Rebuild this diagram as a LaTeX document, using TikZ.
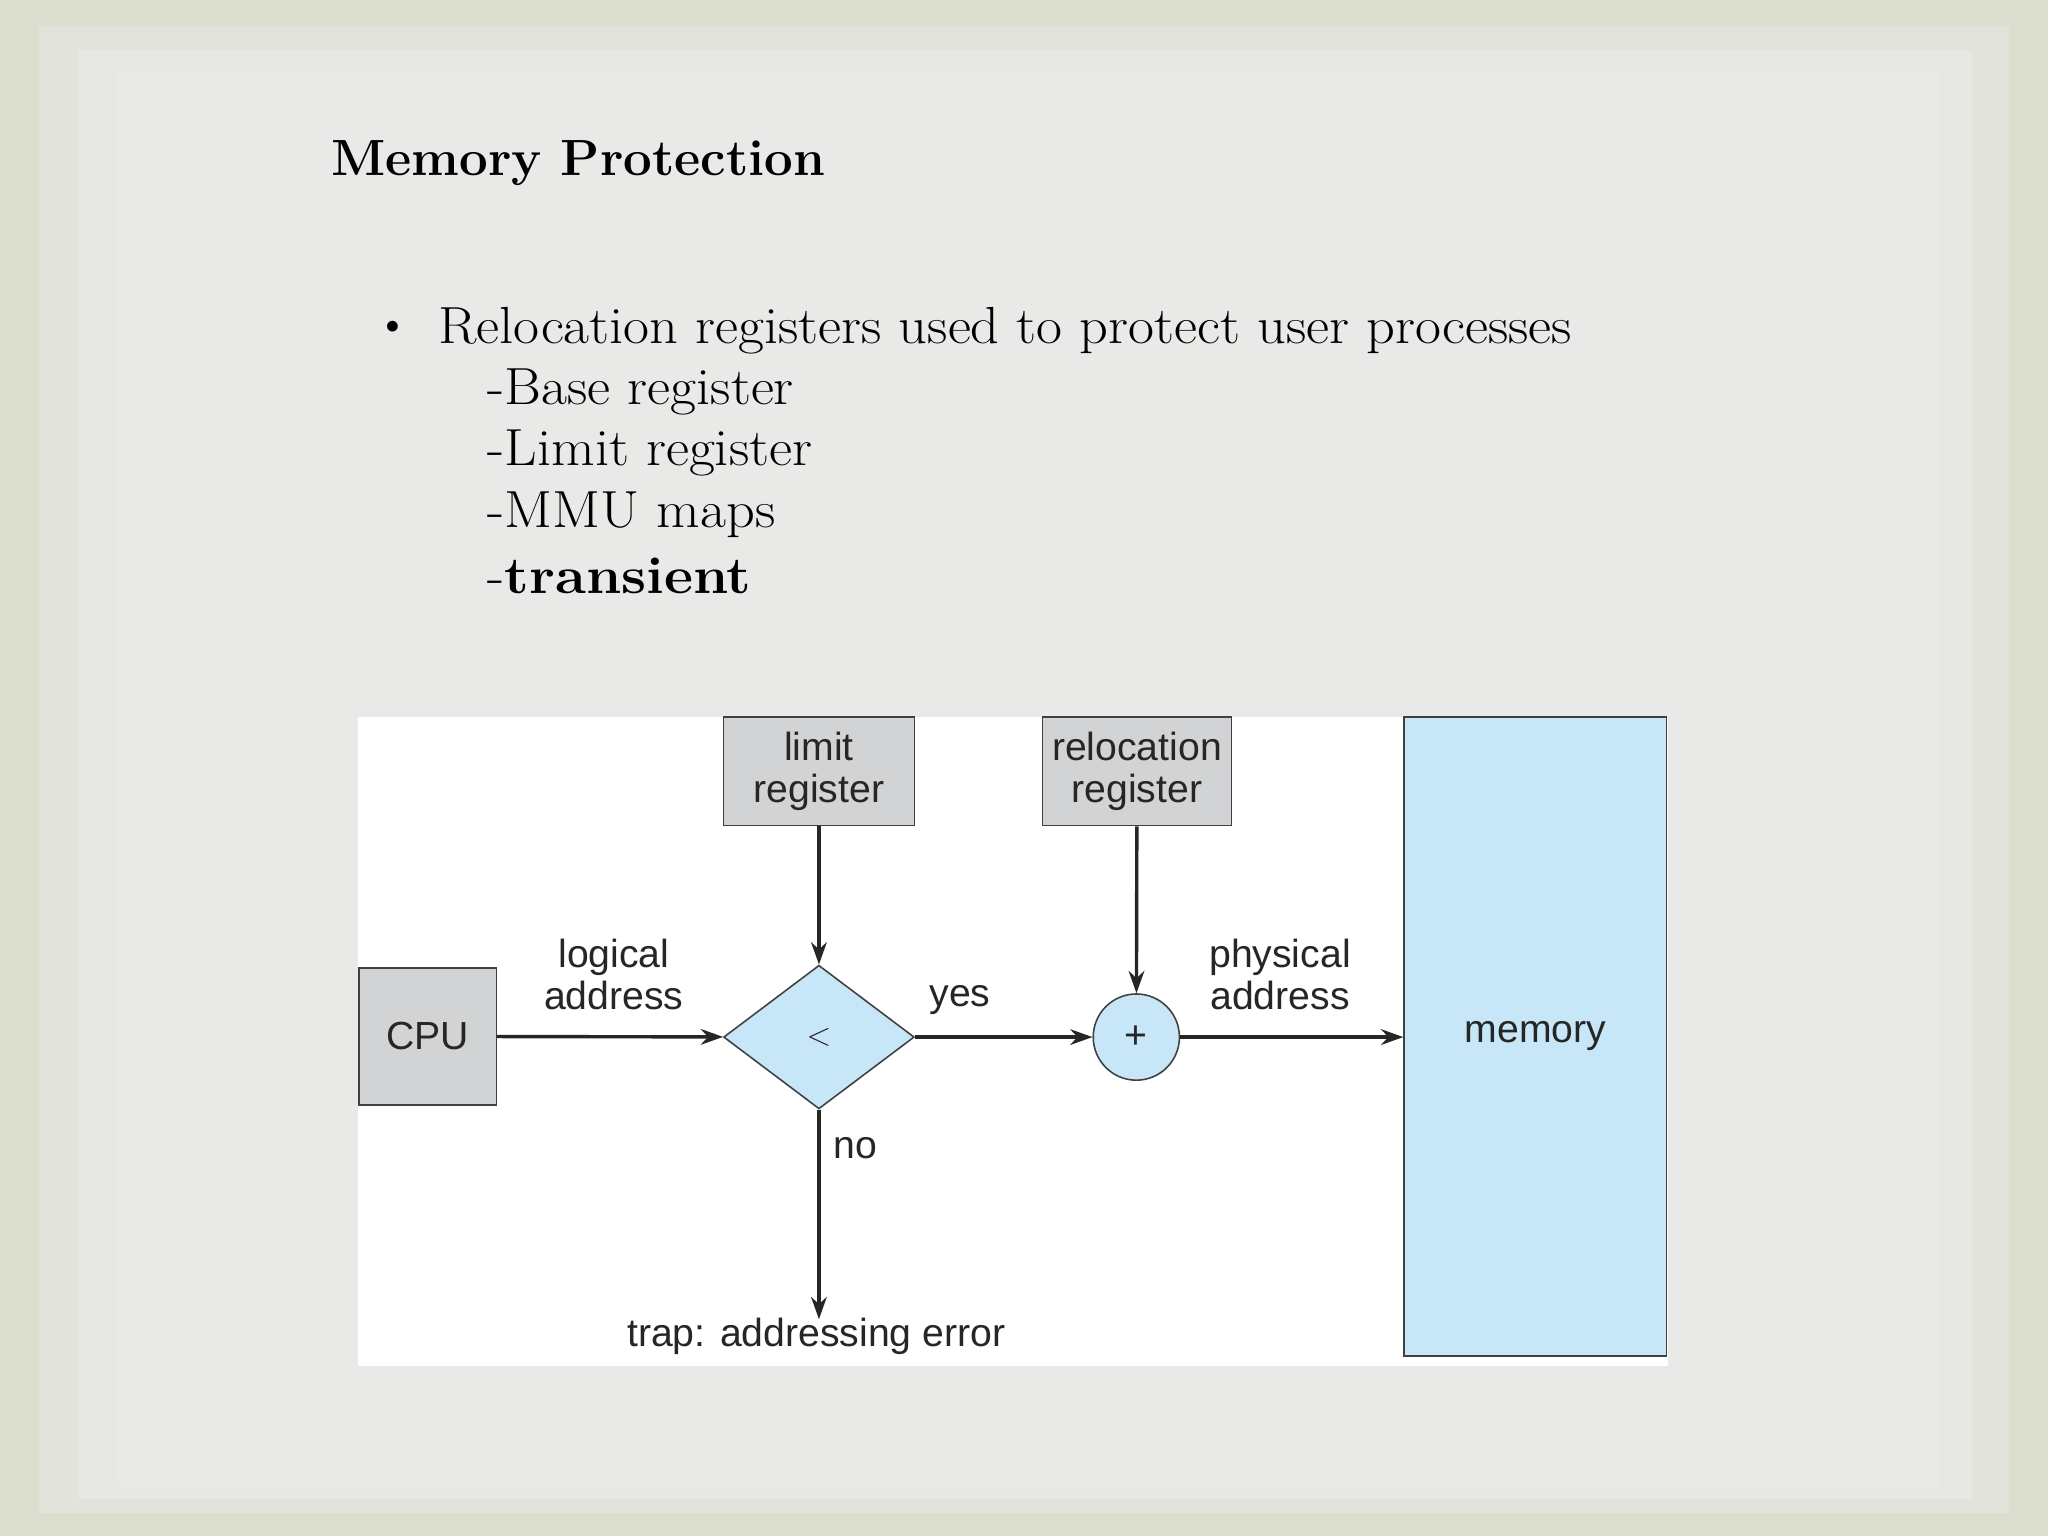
\documentclass[tikz,border=0pt]{standalone}
\usepackage{fontspec}
\newfontfamily\sansf{Liberation Sans}
\usetikzlibrary{shapes.geometric,arrows.meta}
\definecolor{bgout}{HTML}{DCDFCF}
\definecolor{bgin}{HTML}{E9E9E7}
\definecolor{regray}{HTML}{D1D3D4}
\definecolor{lblue}{HTML}{C7E7F8}
\newcommand{\wide}[1]{\scalebox{1.08}[1]{#1}}
\begin{document}
\begin{tikzpicture}[x=1pt,y=-1pt,
  box/.style={draw=black!75,line width=1.2pt,fill=regray},
  lab/.style={font=\sansf\fontsize{30}{36}\selectfont,align=center,text=black!85},
  arr/.style={line width=2.6pt,draw=black!85,-{Stealth[length=17pt,width=12pt]}},
  txt/.style={anchor=west,font=\fontsize{40}{48}\selectfont}]
\useasboundingbox (0,0) rectangle (1568,1176);
\fill[bgout] (0,0) rectangle (1568,1176);
\fill[bgin!50!bgout] (30,20) rectangle (1538,1158);
\fill[bgin!85!bgout] (60,38) rectangle (1510,1148);
\fill[bgin] (90,55) rectangle (1485,1138);
\node[anchor=west,font=\bfseries\fontsize{39}{46}\selectfont] (title) at (250,125) {Memory Protection};
\node[anchor=west,font=\fontsize{37}{44}\selectfont] (bul) at (284,253) {\textbullet};
\node[txt] (l1) at (332,253) {\wide{Relocation registers used to protect user processes}};
\node[txt] (l2) at (370,300) {\wide{-Base register}};
\node[txt] (l3) at (370,347) {\wide{-Limit register}};
\node[txt] (l4) at (370,394) {\wide{-MMU maps}};
\node[txt] (l5) at (370,441) {\wide{-\textbf{transient}}};
\fill[white] (274,549) rectangle (1277,1046);
\node[box,minimum width=146pt,minimum height=83pt,lab] (lim) at (627,590.5) {limit\\[-4pt]register};
\node[box,minimum width=145pt,minimum height=83pt,lab] (rel) at (870.5,590.5) {relocation\\[-4pt]register};
\node[box,minimum width=105pt,minimum height=105pt,lab] (cpu) at (327.5,793.5) {CPU};
\node[diamond,draw=black!75,line width=1.2pt,fill=lblue,minimum width=146pt,minimum height=110pt,inner sep=0pt,lab] (cmp) at (627,794) {$<$};
\node[circle,draw=black!75,line width=1.2pt,fill=lblue,minimum size=66pt,inner sep=0pt,lab] (add) at (870,794) {+};
\node[draw=black!75,line width=1.2pt,fill=lblue,minimum width=201pt,minimum height=489pt,lab] (mem) at (1175.5,793.5) {memory};
\coordinate (trap) at (627,1010);
\draw[arr] (cpu) -- (cmp);
\draw[arr] (cmp) -- (add);
\draw[arr] (add) -- (mem.west|-add);
\draw[arr] (lim) -- (cmp);
\draw[arr] (rel) -- (add);
\draw[arr] (cmp) -- (trap);
\node[lab] (la) at (470,746) {logical\\[-4pt]address};
\node[lab] (yes) at (735,766) {yes};
\node[lab] (pa) at (980,746) {physical\\[-4pt]address};
\node[lab] (no) at (655,879) {no};
\node[lab] (tr) at (625,1023) {trap: addressing error};
\end{tikzpicture}
\end{document}
